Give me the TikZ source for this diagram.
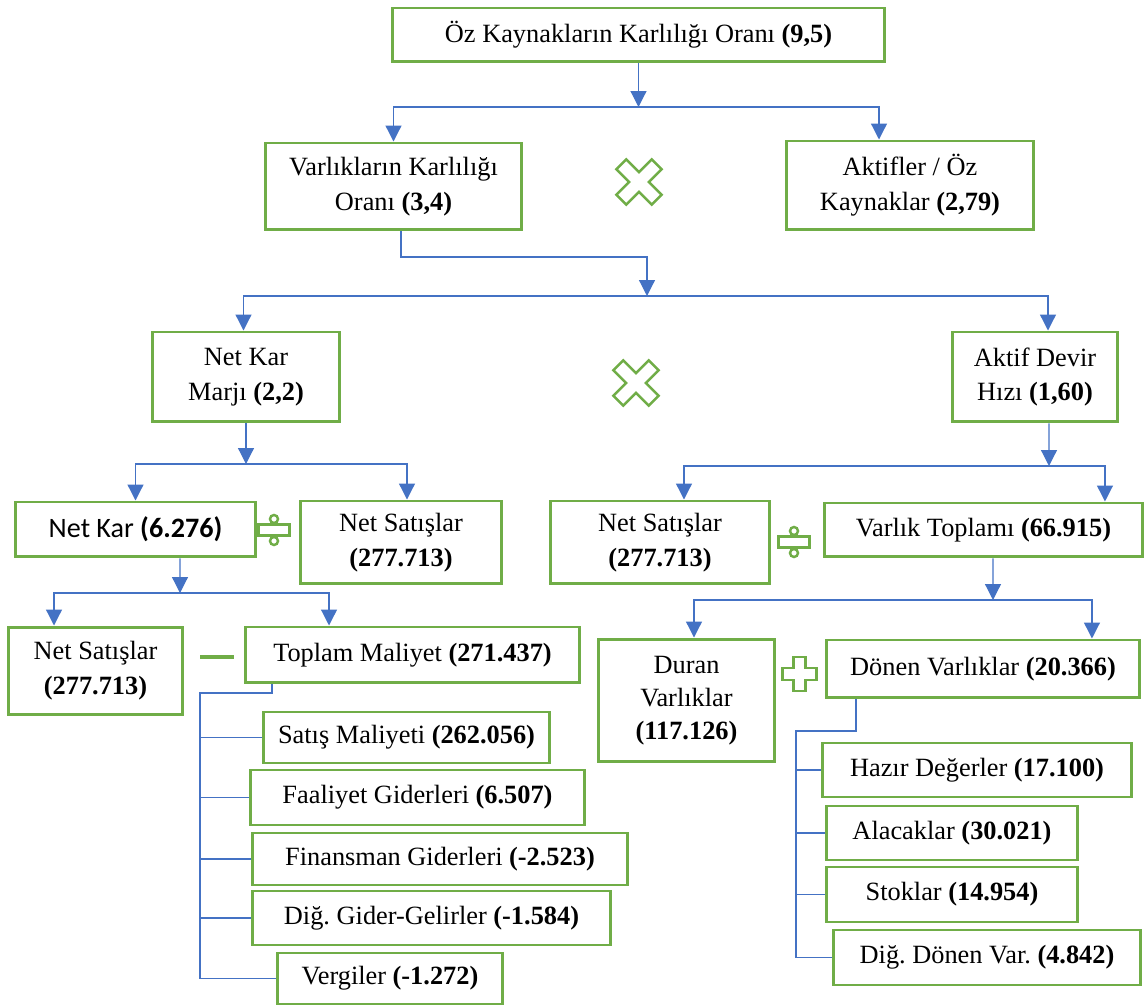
\documentclass[tikz,border=0pt]{standalone}
\usepackage{fontspec}
\setmainfont{Liberation Serif}[BoldFont={Liberation Serif Bold}]
\newfontfamily\calibrifont{Carlito}
\frenchspacing
\usetikzlibrary{arrows.meta}

\definecolor{boxgreen}{HTML}{70AD47}
\definecolor{linkblue}{HTML}{4472C4}

% outline of a plus sign: half arm width #1, half arm length #2
\newcommand{\plusoutline}[2]{(#1,#2) -- (#1,#1) -- (#2,#1) -- (#2,-#1) -- (#1,-#1) -- (#1,-#2)
    -- (-#1,-#2) -- (-#1,-#1) -- (-#2,-#1) -- (-#2,#1) -- (-#1,#1) -- (-#1,#2) -- cycle}

\begin{document}
\begin{tikzpicture}[
    x=0.02cm, y=-0.02cm,
    % Node styles
    ratiobox/.style={
        draw=boxgreen, line width=1.7pt, align=center, inner sep=2pt,
        font=\rmfamily\fontsize{15}{19.8}\selectfont
    },
    % Connector styles
    link/.style={linkblue, line width=0.7pt},
    arrow/.style={link, -{Triangle[width=9pt, length=9pt]}},
    % Operator symbols
    opline/.style={draw=boxgreen, line width=1.4pt, line join=miter},
]
\useasboundingbox (0,0) rectangle (1147,1006);

% ============================================================
% LEVEL 1: return on equity
% ============================================================
\node[ratiobox, minimum width=9.86cm, minimum height=1.08cm] (oz) at (638.5,35)
    {Öz Kaynakların Karlılığı Oranı \textbf{(9,5)}};

\node[ratiobox, minimum width=5.14cm, minimum height=1.74cm] (varkar) at (393.5,186.5)
    {Varlıkların Karlılığı\\Oranı \textbf{(3,4)}};
\node[ratiobox, minimum width=4.96cm, minimum height=1.78cm] (aktifler) at (910,185.5)
    {Aktifler / Öz\\Kaynaklar \textbf{(2,79)}};

% ============================================================
% LEVEL 2: return on assets
% ============================================================
\node[ratiobox, minimum width=3.76cm, minimum height=1.8cm] (netkarmarji) at (246,377)
    {Net Kar\\Marjı \textbf{(2,2)}};
\node[ratiobox, minimum width=3.32cm, minimum height=1.8cm] (aktifdevir) at (1035,377)
    {Aktif Devir\\Hızı \textbf{(1,60)}};

% ============================================================
% LEVEL 3: margin and turnover
% ============================================================
\node[ratiobox, minimum width=4.82cm, minimum height=1.1cm,
      font=\calibrifont\fontsize{16}{19}\selectfont] (netkar) at (135.5,529.5)
    {Net Kar \textbf{(6.276)}};
\node[ratiobox, minimum width=4.04cm, minimum height=1.66cm] (netsat1) at (401,542.5)
    {Net Satışlar\\\textbf{(277.713)}};
\node[ratiobox, minimum width=4.4cm, minimum height=1.66cm] (netsat2) at (660,542.5)
    {Net Satışlar\\\textbf{(277.713)}};
\node[ratiobox, minimum width=6.38cm, minimum height=1.08cm] (varlik) at (983.5,530)
    {Varlık Toplamı \textbf{(66.915)}};

% ============================================================
% LEVEL 4: net profit and total assets
% ============================================================
\node[ratiobox, minimum width=3.5cm, minimum height=1.76cm] (netsat3) at (95.5,671)
    {Net Satışlar\\\textbf{(277.713)}};
\node[ratiobox, minimum width=6.7cm, minimum height=1.12cm] (toplam) at (412.5,655)
    {Toplam Maliyet \textbf{(271.437)}};
\node[ratiobox, minimum width=3.54cm, minimum height=2.46cm,
      font=\rmfamily\fontsize{15}{18.7}\selectfont] (duran) at (686.5,700.5)
    {Duran\\Varlıklar\\\textbf{(117.126)}};
\node[ratiobox, minimum width=6.28cm, minimum height=1.16cm] (donen) at (983,669)
    {Dönen Varlıklar \textbf{(20.366)}};

% --- cost items ---
\node[ratiobox, minimum width=5.74cm, minimum height=1.02cm] (satis) at (406.5,737.5)
    {Satış Maliyeti \textbf{(262.056)}};
\node[ratiobox, minimum width=6.7cm, minimum height=1.1cm] (faaliyet) at (417.5,797.5)
    {Faaliyet Giderleri \textbf{(6.507)}};
\node[ratiobox, minimum width=7.52cm, minimum height=1.04cm] (finansman) at (440,859)
    {Finansman Giderleri \textbf{(-2.523)}};
\node[ratiobox, minimum width=7.18cm, minimum height=1.08cm] (digger) at (431.5,918)
    {Diğ. Gider-Gelirler \textbf{(-1.584)}};
\node[ratiobox, minimum width=4.52cm, minimum height=1.02cm] (vergiler) at (390,978.5)
    {Vergiler \textbf{(-1.272)}};

% --- current asset items ---
\node[ratiobox, minimum width=6.2cm, minimum height=1.08cm] (hazir) at (977,770)
    {Hazır Değerler \textbf{(17.100)}};
\node[ratiobox, minimum width=5.04cm, minimum height=1.08cm] (alacak) at (952,833)
    {Alacaklar \textbf{(30.021)}};
\node[ratiobox, minimum width=5.04cm, minimum height=1.1cm] (stok) at (952,894.5)
    {Stoklar \textbf{(14.954)}};
\node[ratiobox, minimum width=6.16cm, minimum height=1.1cm] (digdonen) at (987,957.5)
    {Diğ. Dönen Var. \textbf{(4.842)}};

% ============================================================
% OPERATORS
% ============================================================
\draw[opline, shift={(639,182)}, rotate=45] \plusoutline{7}{25};
\draw[opline, shift={(636,383)}, rotate=45] \plusoutline{7}{25};
\draw[opline, shift={(799.5,674)}] \plusoutline{6}{17};
% divide
\foreach \cx/\cy in {274/530, 794/542} {
    \draw[opline, shift={(\cx,\cy)}] (-15.5,-5.5) rectangle (15.5,5.5);
    \draw[opline, shift={(\cx,\cy)}] (0,-11) circle (4) (0,11) circle (4);
}
% minus
\draw[boxgreen, line width=2.8pt] (200,657) -- (234,657);

% ============================================================
% CONNECTORS
% ============================================================
% 1. equity -> assets x leverage
\coordinate (j1) at (638.5,107);
\draw[arrow] (oz.south) -- (j1);
\draw[arrow] (j1) -| (varkar.north);
\draw[arrow] (j1) -| ([xshift=-0.62cm]aktifler.north);

% 2. assets -> margin x turnover
\coordinate (k2) at (647,257);
\coordinate (j2) at (647,296);
\draw[arrow] ([xshift=0.15cm]varkar.south) |- (k2) -- (j2);
\draw[arrow] (j2) -| ([xshift=-0.05cm]netkarmarji.north);
\draw[arrow] (j2) -| ([xshift=0.26cm]aktifdevir.north);

% 3. margin -> profit / sales
\coordinate (j3) at (246,464);
\draw[arrow] (netkarmarji.south) -- (j3);
\draw[arrow] (j3) -| (netkar.north);
\draw[arrow] (j3) -| ([xshift=0.12cm]netsat1.north);

% 4. turnover -> sales / assets
\coordinate (j4) at (1049,466);
\draw[arrow] ([xshift=0.28cm]aktifdevir.south) -- (j4);
\draw[arrow] (j4) -| ([xshift=0.48cm]netsat2.north);
\draw[arrow] (j4) -| ([xshift=2.43cm]varlik.north);

% 5. profit -> sales - cost
\coordinate (j5) at (180,593);
\draw[arrow] ([xshift=0.89cm]netkar.south) -- (j5);
\draw[arrow] (j5) -| ([xshift=-0.83cm]netsat3.north);
\draw[arrow] (j5) -| ([xshift=-1.67cm]toplam.north);

% 6. assets -> fixed + current
\coordinate (j6) at (993,600);
\draw[arrow] ([xshift=0.19cm]varlik.south) -- (j6);
\draw[arrow] (j6) -| ([xshift=0.15cm]duran.north);
\draw[arrow] (j6) -| ([xshift=2.18cm]donen.north);

% 7. cost breakdown
\coordinate (s1) at (200,693);
\draw[link] ([xshift=-2.81cm]toplam.south) |- (s1) -- (s1 |- vergiler.west);
\foreach \n in {satis, faaliyet, finansman, digger, vergiler}
    \draw[link] (s1 |- \n.west) -- (\n.west);

% 8. current asset breakdown
\coordinate (s2) at (796,731);
\draw[link] ([xshift=-2.54cm]donen.south) |- (s2) -- (s2 |- digdonen.west);
\foreach \n in {hazir, alacak, stok, digdonen}
    \draw[link] (s2 |- \n.west) -- (\n.west);

\end{tikzpicture}
\end{document}
